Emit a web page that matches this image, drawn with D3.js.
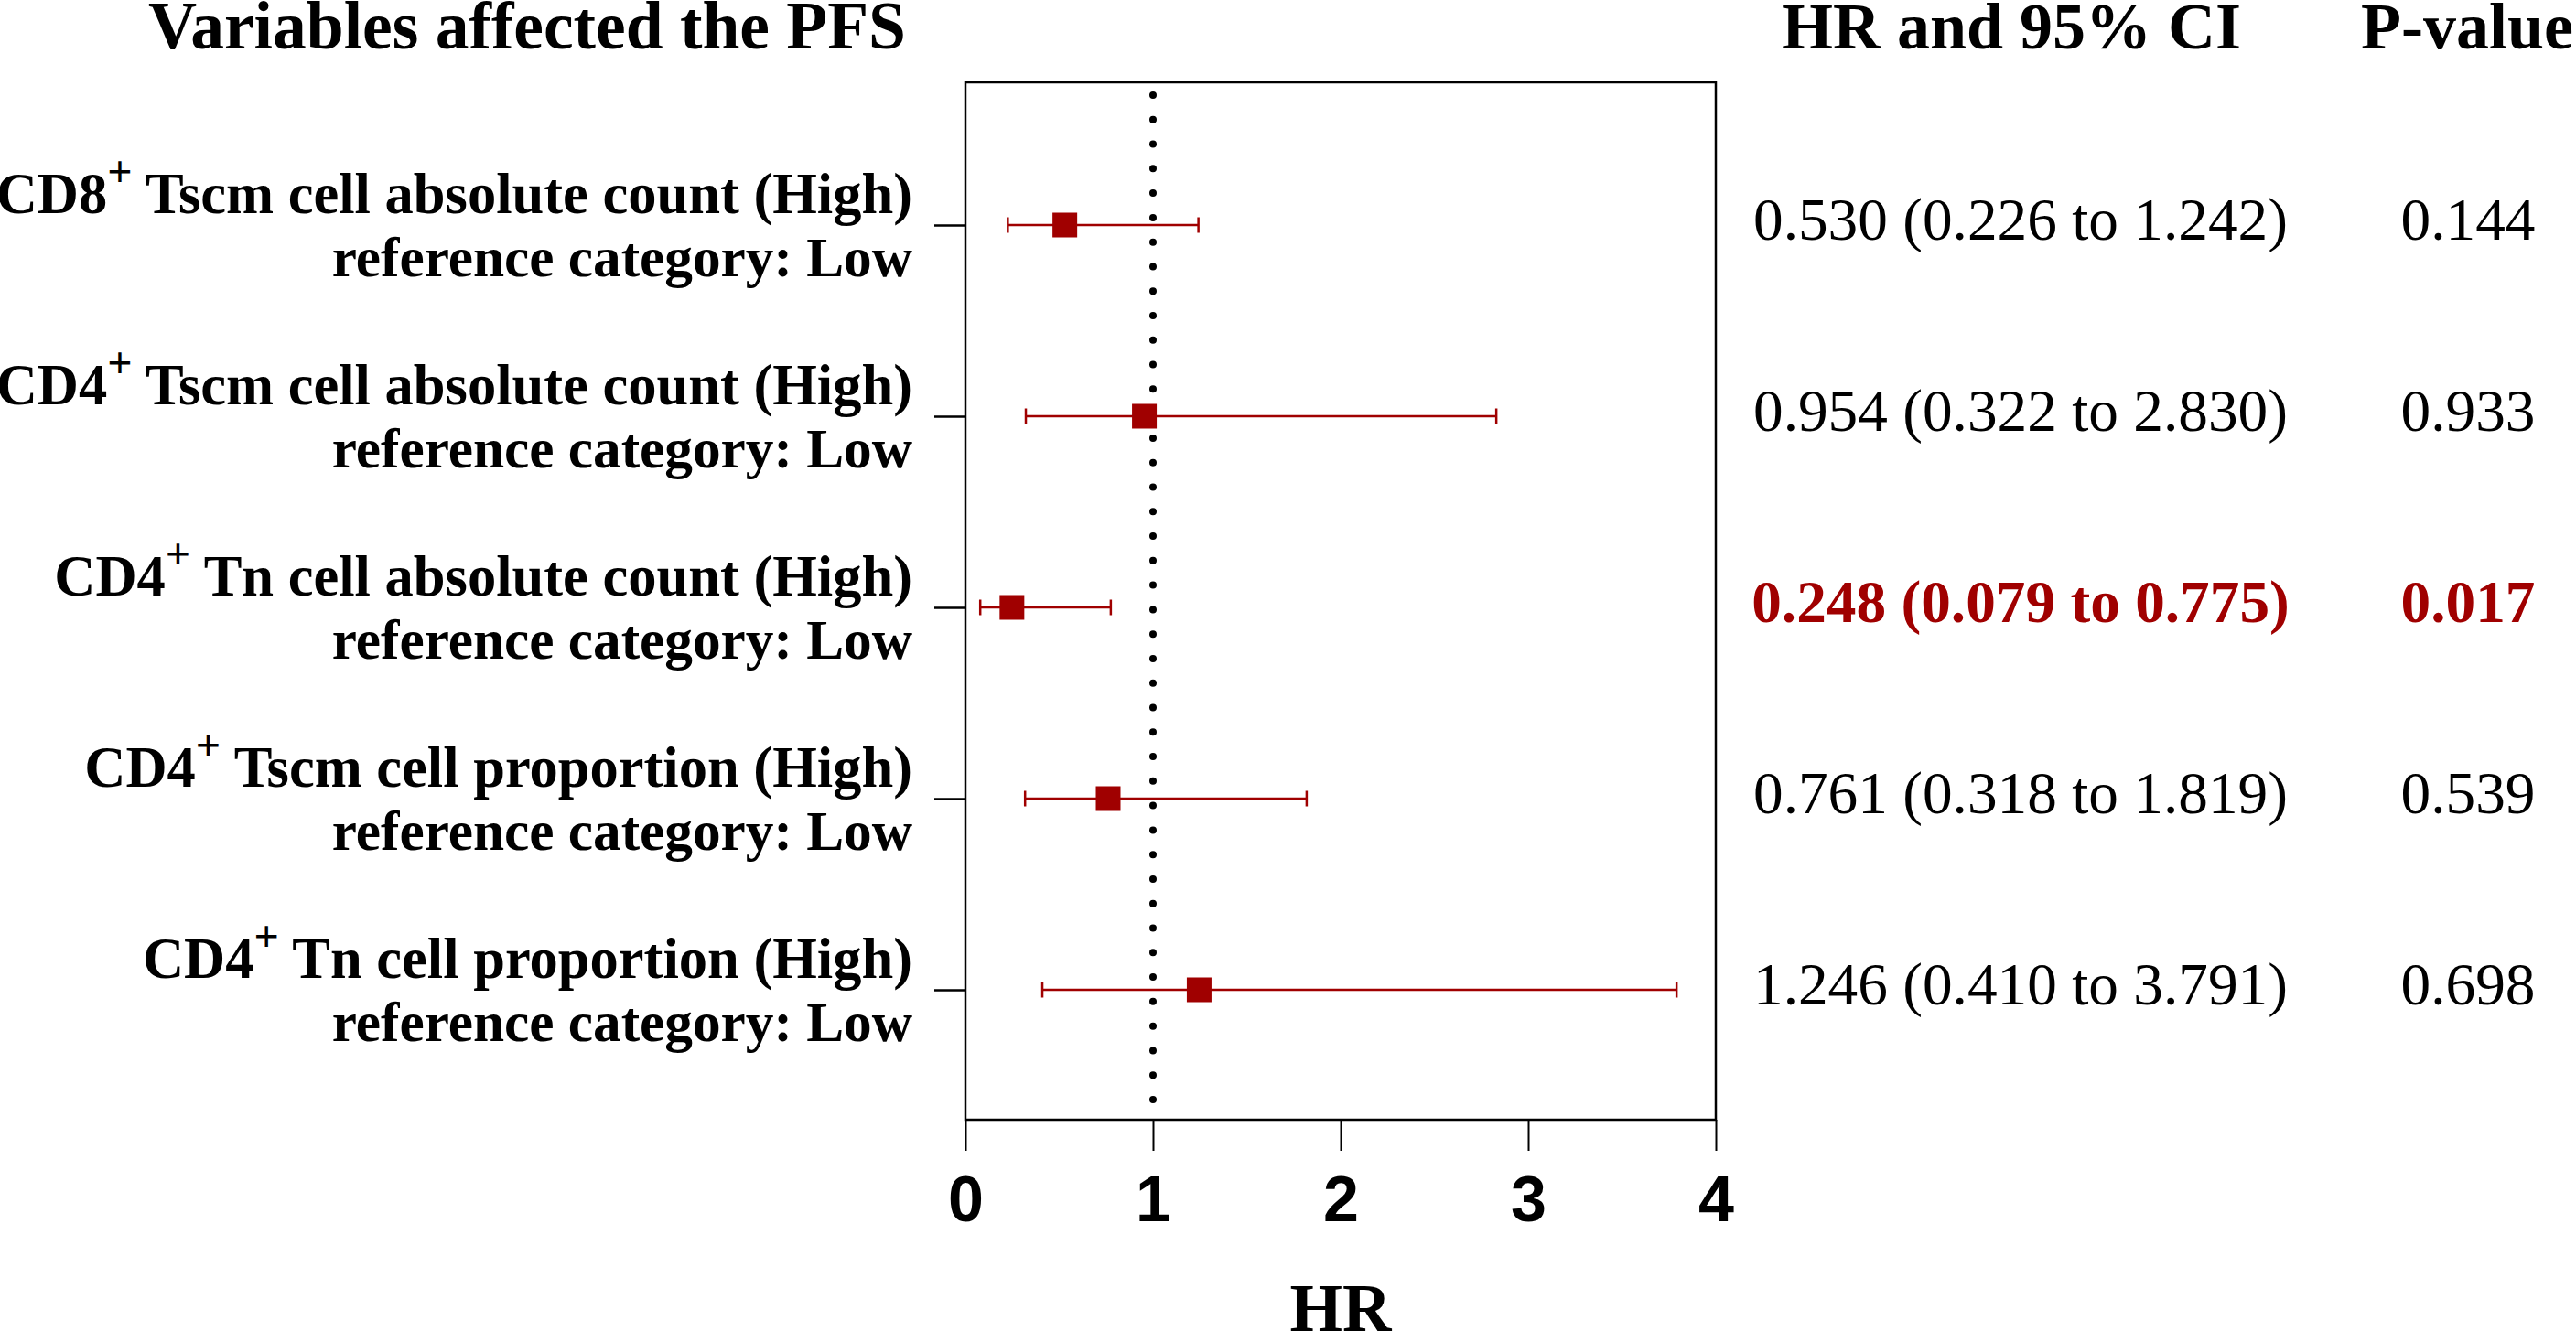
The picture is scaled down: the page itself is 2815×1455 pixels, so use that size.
<!DOCTYPE html>
<html>
<head>
<meta charset="utf-8">
<script src="https://cdn.jsdelivr.net/npm/d3@7"></script>
<style>
  body { margin: 0; background: #fff; }
  svg { display: block; }
</style>
</head>
<body>
<div id="chart"></div>
<script>
(function () {
    'use strict';

    // rows, top to bottom
    const cellTypes = ['CD8', 'CD4', 'CD4', 'CD4', 'CD4'];
    const labelRest = [
        ' Tscm cell absolute count (High)',
        ' Tscm cell absolute count (High)',
        ' Tn cell absolute count (High)',
        ' Tscm cell proportion (High)',
        ' Tn cell proportion (High)'
    ];
    const refLabel = 'reference category: Low';
    const hr = [0.530, 0.954, 0.248, 0.761, 1.246];
    const lower = [0.226, 0.322, 0.079, 0.318, 0.410];
    const upper = [1.242, 2.830, 0.775, 1.819, 3.791];
    const pValues = ['0.144', '0.933', '0.017', '0.539', '0.698'];
    const significant = [false, false, true, false, false];
    const xTicks = [0, 1, 2, 3, 4];

    const width = 2815;
    const height = 1455;
    const box = { left: 1055, right: 1875, top: 90, bottom: 1224 };
    const red = '#a00000';
    const serif = '"Liberation Serif", "Times New Roman", Times, serif';
    const sans = '"Liberation Sans", Arial, Helvetica, sans-serif';

    const rows = d3.range(cellTypes.length);

    const x = d3.scaleLinear().domain([0, 4]).range([box.left, box.right]);
    const y = d3.scalePoint().domain(rows).range([246, 1082]);

    const svg = d3.select('#chart').append('svg')
        .attr('width', width)
        .attr('height', height)
        .attr('viewBox', [0, 0, width, height]);

    // headers
    const head = svg.append('g')
        .attr('font-family', serif)
        .attr('font-weight', 'bold')
        .attr('fill', '#000');
    head.append('text').attr('x', 990).attr('y', 53).attr('text-anchor', 'end')
        .attr('font-size', 73.5)
        .text('Variables affected the PFS');
    head.append('text').attr('x', 2198).attr('y', 53).attr('text-anchor', 'middle')
        .attr('font-size', 72)
        .text('HR and 95% CI');
    head.append('text').attr('x', 2696).attr('y', 53).attr('text-anchor', 'middle')
        .attr('font-size', 72)
        .text('P-value');

    // row labels
    const labels = svg.append('g')
        .attr('font-family', serif)
        .attr('font-weight', 'bold')
        .attr('text-anchor', 'end')
        .selectAll('g')
        .data(rows)
        .join('g')
        .attr('transform', i => `translate(997,${y(i)})`);

    const line1 = labels.append('text').attr('y', -13).attr('font-size', 62.5);
    line1.append('tspan').text(i => cellTypes[i]);
    line1.append('tspan').attr('font-size', 48).attr('dy', -29).text('+');
    line1.append('tspan').attr('dy', 29).text(i => labelRest[i]);

    labels.append('text').attr('y', 56).attr('font-size', 61.3).text(refLabel);

    // left ticks at each row
    const yAxis = svg.append('g')
        .attr('transform', `translate(${box.left},0)`)
        .call(d3.axisLeft(y).tickSize(34).tickFormat(''));
    yAxis.select('.domain').remove();
    yAxis.selectAll('.tick line').attr('stroke', '#000').attr('stroke-width', 2.5);

    // bottom axis
    const xAxis = svg.append('g')
        .attr('transform', `translate(0,${box.bottom})`)
        .call(d3.axisBottom(x)
            .tickValues(xTicks)
            .tickFormat(d3.format('d'))
            .tickSize(34)
            .tickSizeOuter(0)
            .tickPadding(27));
    xAxis.select('.domain').remove();
    xAxis.selectAll('.tick line').attr('stroke', '#000').attr('stroke-width', 2);
    xAxis.selectAll('.tick text')
        .attr('font-family', sans)
        .attr('font-weight', 'bold')
        .attr('font-size', 70)
        .attr('fill', '#000');

    // frame
    svg.append('rect')
        .attr('x', box.left)
        .attr('y', box.top)
        .attr('width', box.right - box.left)
        .attr('height', box.bottom - box.top)
        .attr('fill', 'none')
        .attr('stroke', '#000')
        .attr('stroke-width', 2.5);

    // reference line at HR = 1
    svg.append('line')
        .attr('x1', x(1)).attr('x2', x(1))
        .attr('y1', box.top + 14).attr('y2', box.bottom)
        .attr('stroke', '#000')
        .attr('stroke-width', 8)
        .attr('stroke-linecap', 'round')
        .attr('stroke-dasharray', '0 26.78');

    // confidence intervals
    const ci = svg.append('g')
        .attr('stroke', red)
        .attr('stroke-width', 2.5)
        .selectAll('g')
        .data(rows)
        .join('g');

    ci.append('line')
        .attr('x1', i => x(lower[i])).attr('x2', i => x(upper[i]))
        .attr('y1', i => y(i)).attr('y2', i => y(i));
    ci.append('line')
        .attr('x1', i => x(lower[i])).attr('x2', i => x(lower[i]))
        .attr('y1', i => y(i) - 8.5).attr('y2', i => y(i) + 8.5);
    ci.append('line')
        .attr('x1', i => x(upper[i])).attr('x2', i => x(upper[i]))
        .attr('y1', i => y(i) - 8.5).attr('y2', i => y(i) + 8.5);

    // point estimates
    const size = 27;
    svg.append('g')
        .attr('fill', red)
        .selectAll('rect')
        .data(rows)
        .join('rect')
        .attr('x', i => x(hr[i]) - size / 2)
        .attr('y', i => y(i) - size / 2)
        .attr('width', size)
        .attr('height', size);

    // HR text and p-values
    const fmt = d3.format('.3f');
    const table = svg.append('g')
        .attr('font-family', serif)
        .attr('font-size', 65.3)
        .attr('text-anchor', 'middle');

    table.selectAll('text.ci')
        .data(rows)
        .join('text')
        .attr('class', 'ci')
        .attr('x', 2208)
        .attr('y', i => y(i) + 16)
        .attr('fill', i => significant[i] ? red : '#000')
        .attr('font-weight', i => significant[i] ? 'bold' : 'normal')
        .text(i => `${fmt(hr[i])} (${fmt(lower[i])} to ${fmt(upper[i])})`);

    table.selectAll('text.p')
        .data(rows)
        .join('text')
        .attr('class', 'p')
        .attr('x', 2697)
        .attr('y', i => y(i) + 16)
        .attr('fill', i => significant[i] ? red : '#000')
        .attr('font-weight', i => significant[i] ? 'bold' : 'normal')
        .text(i => pValues[i]);

    // x axis title
    svg.append('text')
        .attr('x', x(2))
        .attr('y', 1455)
        .attr('text-anchor', 'middle')
        .attr('font-family', serif)
        .attr('font-weight', 'bold')
        .attr('font-size', 74)
        .text('HR');
})();
</script>
</body>
</html>
